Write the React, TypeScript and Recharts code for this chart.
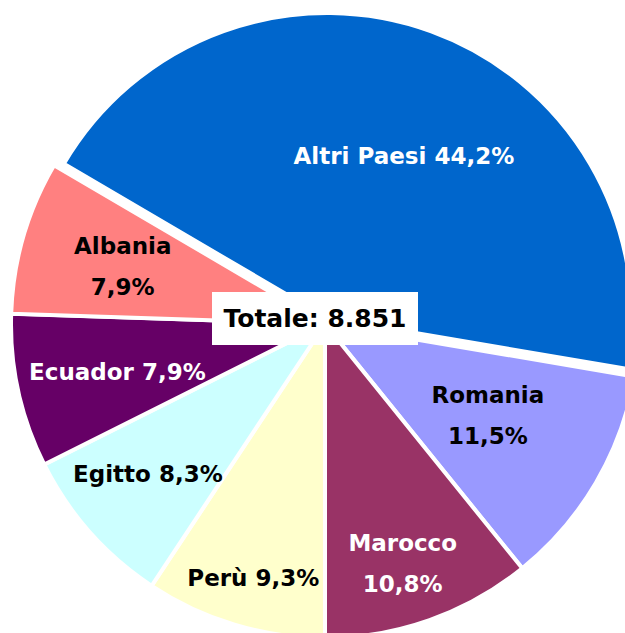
import { PieChart, Pie, Cell } from "recharts";

// Paesi di provenienza (quota %)
const paesi = ["Perù", "Egitto", "Ecuador", "Albania", "Altri Paesi", "Romania", "Marocco"];
const quote = [9.3, 8.3, 7.9, 7.9, 44.2, 11.5, 10.8];
const totale = "8.851";

const colori = ["#FFFFCC", "#CCFFFF", "#660066", "#FF8080", "#0066CC", "#9999FF", "#993366"];
const coloriTesto = ["#000", "#000", "#fff", "#000", "#fff", "#000", "#fff"];
const dueRighe = [false, false, false, true, false, true, true];
// posizione etichette: distanza dal centro e piccola correzione d'angolo
const distLabel = [264, 232, 213, 210, 186, 187, 252];
const angLabel = [1.0, -1.3, 0.6, 0.5, -5.1, 0.9, -1.5];

const data = paesi.map((p, i) => ({ name: p, value: quote[i] }));
const ALTRI = paesi.indexOf("Altri Paesi");
const RADIAN = Math.PI / 180;
const FONT = "'Comic Sans MS', 'DejaVu Sans', sans-serif";

const fmt = (v: number) => v.toFixed(1).replace(".", ",") + "%";

const renderLabel = (props: any) => {
  const { cx, cy, midAngle, index } = props;
  const r = distLabel[index];
  const a = (midAngle + angLabel[index]) * RADIAN;
  const x = cx + r * Math.cos(-a);
  const y = cy + r * Math.sin(-a);
  const common = {
    x,
    textAnchor: "middle" as const,
    fill: coloriTesto[index],
    fontFamily: FONT,
    fontWeight: "bold",
    fontSize: 23,
  };
  if (dueRighe[index]) {
    return (
      <text {...common} y={y}>
        <tspan x={x} dy={-13}>{paesi[index]}</tspan>
        <tspan x={x} dy={41}>{fmt(quote[index])}</tspan>
      </text>
    );
  }
  return (
    <text {...common} y={y} dominantBaseline="central">
      {paesi[index] + " " + fmt(quote[index])}
    </text>
  );
};

export default function App() {
  return (
    <div style={{ position: "absolute", left: 0, top: 0, width: 625, height: 633, background: "#fff" }}>
      <PieChart width={625} height={633} margin={{ top: 0, right: 0, bottom: 0, left: 0 }}>
        {/* fetta esplosa "Altri Paesi" */}
        <Pie
          data={data}
          dataKey="value"
          cx={327}
          cy={318}
          outerRadius={305}
          startAngle={270}
          endAngle={-90}
          isAnimationActive={false}
          labelLine={false}
        >
          {data.map((d, i) => (
            <Cell
              key={d.name}
              fill={i === ALTRI ? colori[i] : "transparent"}
              stroke={i === ALTRI ? "#fff" : "none"}
              strokeWidth={4}
            />
          ))}
        </Pie>
        <Pie
          data={data}
          dataKey="value"
          cx={325}
          cy={324}
          outerRadius={314}
          startAngle={270}
          endAngle={-90}
          isAnimationActive={false}
          labelLine={false}
          label={renderLabel}
        >
          {data.map((d, i) => (
            <Cell
              key={d.name}
              fill={i === ALTRI ? "transparent" : colori[i]}
              stroke={i === ALTRI ? "none" : "#fff"}
              strokeWidth={4}
            />
          ))}
        </Pie>
      </PieChart>
      <div
        style={{
          position: "absolute",
          left: 212,
          top: 292,
          width: 206,
          height: 53,
          background: "#fff",
          display: "flex",
          alignItems: "center",
          justifyContent: "center",
          fontFamily: FONT,
          fontWeight: "bold",
          fontSize: 25,
          color: "#000",
          whiteSpace: "nowrap",
        }}
      >
        {"Totale: " + totale}
      </div>
    </div>
  );
}
